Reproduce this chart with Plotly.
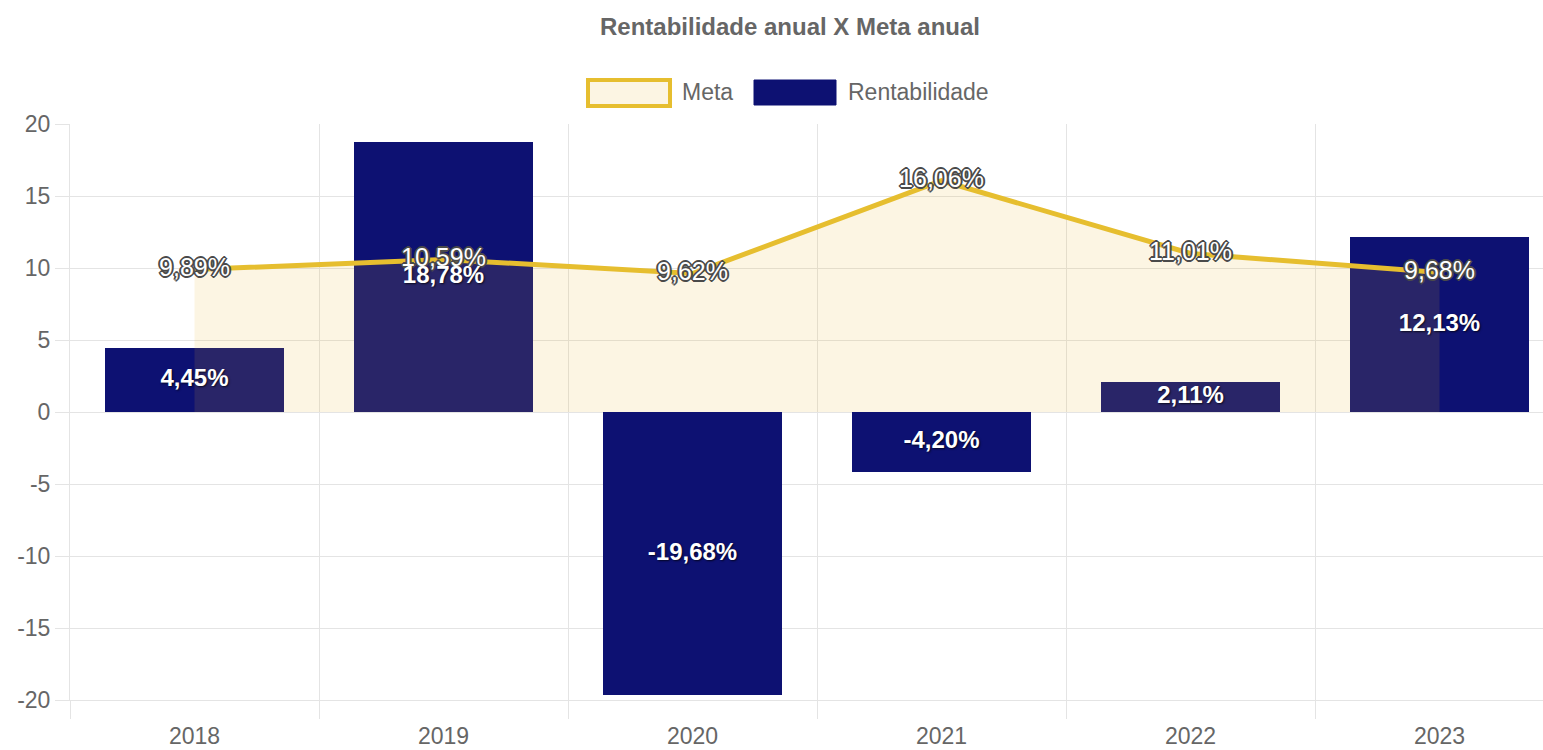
import plotly.graph_objects as go

# Annual data
years = [2018, 2019, 2020, 2021, 2022, 2023]
rentabilidade = [4.45, 18.78, -19.68, -4.20, 2.11, 12.13]
meta = [9.89, 10.59, 9.62, 16.06, 11.01, 9.68]
y_ticks = [-20, -15, -10, -5, 0, 5, 10, 15, 20]

NAVY = "#0D1172"
GOLD = "#E6BE2F"
CREAM_FILL = "rgba(232,180,40,0.13)"
GRID = "#E4E4E4"
TEXT = "#666666"
FONT = "Liberation Sans, Arial, sans-serif"

W, H = 1543, 750
ML, MR, MT, MB = 70, 0, 124, 50


def pct(v):
    return f"{v:.2f}".replace(".", ",") + "%"


OUTLINE = ", ".join(
    f"{dx}px {dy}px 0 #4a4a4a"
    for dx, dy in [(-1, -1), (1, -1), (-1, 1), (1, 1), (0, -2), (0, 2), (-2, 0), (2, 0)]
)

fig = go.Figure()

fig.add_trace(go.Bar(
    x=years, y=rentabilidade, width=0.72,
    marker=dict(color=NAVY, line=dict(width=0)),
    name="Rentabilidade", showlegend=False, hoverinfo="skip",
))

fig.add_trace(go.Scatter(
    x=years, y=meta, mode="lines+text",
    line=dict(color=GOLD, width=5),
    fill="tozeroy", fillcolor=CREAM_FILL,
    text=[pct(v) for v in meta], textposition="middle center",
    textfont=dict(family=FONT, size=25, color="white", shadow=OUTLINE),
    name="Meta", showlegend=False, hoverinfo="skip",
))

# value labels centred inside each bar
fig.add_trace(go.Scatter(
    x=years, y=[v / 2 for v in rentabilidade], mode="text",
    text=[pct(v) for v in rentabilidade], textposition="middle center",
    textfont=dict(family=FONT, size=24, color="white", weight="bold",
                  shadow="1px 1px 2px rgba(0,0,0,0.7)"),
    showlegend=False, hoverinfo="skip",
))

plot_w = W - ML - MR
cat_px = 249.0
x_lo = years[0] - 0.5
x_hi = x_lo + plot_w / cat_px

fig.update_xaxes(
    range=[x_lo, x_hi], automargin=False,
    tickmode="array", tickvals=years, ticktext=[str(y) for y in years],
    ticks="", showgrid=False, zeroline=False,
    showline=True, linecolor=GRID, linewidth=1,
    tickfont=dict(family=FONT, size=23, color=TEXT),
    ticklabelstandoff=15,
    minor=dict(tickmode="array", tickvals=[y - 0.5 for y in years] + [years[-1] + 0.5],
               ticks="outside", ticklen=18, tickcolor=GRID, tickwidth=1,
               showgrid=True, gridcolor=GRID, gridwidth=1),
)

fig.update_yaxes(
    range=[-20, 20], automargin=False,
    tickmode="array", tickvals=y_ticks, ticktext=[str(v) for v in y_ticks],
    ticks="outside", ticklen=14, tickcolor=GRID, tickwidth=1,
    showgrid=True, gridcolor=GRID, gridwidth=1,
    zeroline=False, showline=True, linecolor=GRID, linewidth=1,
    tickfont=dict(family=FONT, size=23, color=TEXT),
)

plot_h = H - MT - MB


def px_x(p):
    return (p - ML) / plot_w


def px_y(p):
    return (H - MB - p) / plot_h


# legend drawn as boxes with labels
shapes = [
    dict(type="rect", xref="paper", yref="paper",
         x0=px_x(588), x1=px_x(670), y0=px_y(106), y1=px_y(80),
         line=dict(color=GOLD, width=4), fillcolor="#FCF5E3"),
    dict(type="rect", xref="paper", yref="paper",
         x0=px_x(754), x1=px_x(836), y0=px_y(105), y1=px_y(80),
         line=dict(color=NAVY, width=1), fillcolor=NAVY),
]
annotations = [
    dict(text="Meta", xref="paper", yref="paper", x=px_x(680), y=px_y(92),
         xanchor="left", yanchor="middle", showarrow=False,
         font=dict(family=FONT, size=23, color=TEXT)),
    dict(text="Rentabilidade", xref="paper", yref="paper", x=px_x(846), y=px_y(92),
         xanchor="left", yanchor="middle", showarrow=False,
         font=dict(family=FONT, size=23, color=TEXT)),
]

fig.update_layout(
    width=W, height=H,
    margin=dict(l=ML, r=MR, t=MT, b=MB, pad=0, autoexpand=False),
    paper_bgcolor="white", plot_bgcolor="white",
    title=dict(text="<b>Rentabilidade anual X Meta anual</b>",
               x=790 / W, xref="container", xanchor="center",
               y=1 - 27 / H, yref="container", yanchor="middle",
               font=dict(family=FONT, size=24, color=TEXT)),
    shapes=shapes, annotations=annotations,
    showlegend=False, bargap=0,
)

fig.write_html("out.html")
